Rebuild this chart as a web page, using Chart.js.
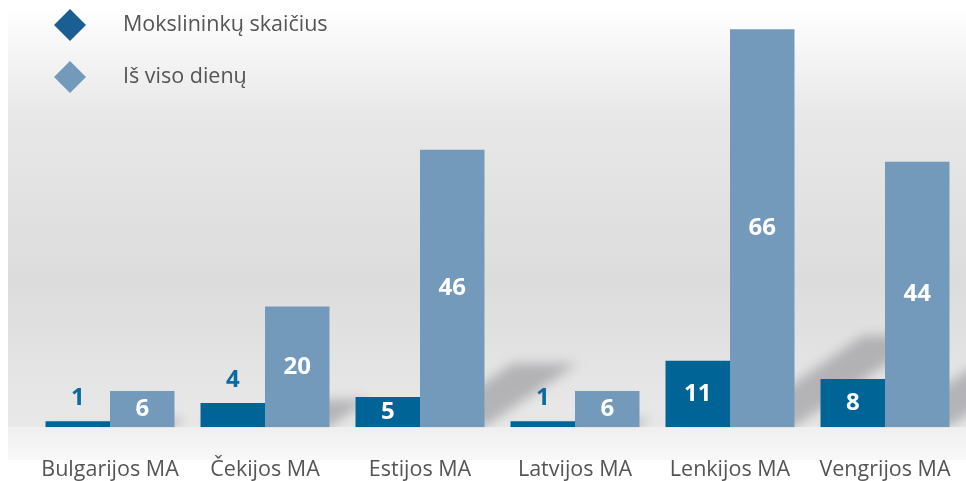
<!DOCTYPE html>
<html lang="lt">
<head>
<meta charset="UTF-8">
<title>Mokslininkų skaičius</title>
<script src="https://cdn.jsdelivr.net/npm/chart.js@4.4.0/dist/chart.umd.min.js"></script>
<style>
  html, body { margin: 0; padding: 0; background: #fff; }
  #wrap { width: 966px; height: 481px; position: relative; }
</style>
</head>
<body>
<div id="wrap"><canvas id="myChart" width="966" height="481"></canvas></div>
<script>
// duomenys
var categories = ['Bulgarijos MA', 'Čekijos MA', 'Estijos MA', 'Latvijos MA', 'Lenkijos MA', 'Vengrijos MA'];
var researchers = [1, 4, 5, 1, 11, 8];
var totalDays = [6, 20, 46, 6, 66, 44];
var seriesNames = ['Mokslininkų skaičius', 'Iš viso dienų'];

var darkBlue = '#006596';
var lightBlue = '#7399bb';
var legendColors = ['#1b5e94', '#7399bb'];

// fonas su gradientu
var backgroundPlugin = {
  id: 'bg',
  beforeDraw: function(chart) {
    var ctx = chart.ctx;
    var base = chart.scales.y.getPixelForValue(0);
    ctx.save();
    var g = ctx.createLinearGradient(0, 8, 0, base);
    g.addColorStop(0, '#ffffff');
    g.addColorStop(0.25, '#e7e8e7');
    g.addColorStop(0.65, '#dcdcdc');
    g.addColorStop(1, '#e9e9e9');
    ctx.fillStyle = g;
    ctx.fillRect(8, 8, chart.width - 8, base - 8);
    var g2 = ctx.createLinearGradient(0, base, 0, 460);
    g2.addColorStop(0, '#eeefee');
    g2.addColorStop(1, '#f8f8f8');
    ctx.fillStyle = g2;
    ctx.fillRect(8, base, chart.width - 8, 460 - base);
    ctx.restore();
  }
};

// stulpelių šešėliai
var shadowPlugin = {
  id: 'shadows',
  beforeDatasetsDraw: function(chart) {
    var ctx = chart.ctx;
    var base = chart.scales.y.getPixelForValue(0);
    ctx.save();
    ctx.beginPath();
    ctx.rect(8, 8, chart.width - 8, base - 8);
    ctx.clip();
    ctx.filter = 'blur(6px)';
    ctx.fillStyle = 'rgba(110,110,116,0.42)';
    chart.data.datasets.forEach(function(ds, di) {
      chart.getDatasetMeta(di).data.forEach(function(bar) {
        var h = base - bar.y;
        var rise = 0.23 * h;
        var sx = 1.45 * rise;
        var x0 = bar.x - bar.width / 2, x1 = bar.x + bar.width / 2;
        ctx.beginPath();
        ctx.moveTo(x0, base);
        ctx.lineTo(x1, base);
        ctx.lineTo(x1 + sx, base - rise);
        ctx.lineTo(x0 + sx, base - rise);
        ctx.closePath();
        ctx.fill();
      });
    });
    ctx.restore();
  }
};

// reikšmių etiketės
var valuesPlugin = {
  id: 'values',
  afterDatasetsDraw: function(chart) {
    var ctx = chart.ctx;
    var base = chart.scales.y.getPixelForValue(0);
    ctx.save();
    ctx.font = 'bold 24px "Open Sans", sans-serif';
    ctx.textAlign = 'center';
    ctx.textBaseline = 'middle';
    chart.data.datasets.forEach(function(ds, di) {
      chart.getDatasetMeta(di).data.forEach(function(bar, i) {
        var h = base - bar.y;
        var y;
        if (h < 30) {
          ctx.fillStyle = '#0a6aa1';
          y = bar.y - 23;
        } else {
          ctx.fillStyle = '#ffffff';
          y = bar.y + h / 2;
        }
        ctx.fillText(String(ds.data[i]), bar.x, y);
      });
    });
    ctx.restore();
  }
};

// legenda
var legendPlugin = {
  id: 'customLegend',
  afterDraw: function(chart) {
    var ctx = chart.ctx;
    ctx.save();
    ctx.font = '21.5px "Open Sans", sans-serif';
    ctx.textBaseline = 'middle';
    chart.data.datasets.forEach(function(ds, i) {
      var cy = 25 + i * 52;
      var cx = 70, r = 16;
      ctx.fillStyle = legendColors[i];
      ctx.beginPath();
      ctx.moveTo(cx, cy - r);
      ctx.lineTo(cx + r, cy);
      ctx.lineTo(cx, cy + r);
      ctx.lineTo(cx - r, cy);
      ctx.closePath();
      ctx.fill();
      ctx.fillStyle = '#555555';
      ctx.fillText(ds.label, 123, cy);
    });
    ctx.restore();
  }
};

var myChart = new Chart(document.getElementById('myChart'), {
  type: 'bar',
  data: {
    labels: categories,
    datasets: [
      { label: seriesNames[0], data: researchers, backgroundColor: darkBlue },
      { label: seriesNames[1], data: totalDays, backgroundColor: lightBlue }
    ]
  },
  options: {
    responsive: false,
    animation: false,
    devicePixelRatio: 1,
    layout: { padding: { top: 5, left: 32.5, right: 3.5, bottom: -32 } },
    datasets: { bar: { categoryPercentage: 0.832, barPercentage: 1 } },
    plugins: { legend: { display: false }, tooltip: { enabled: false } },
    scales: {
      x: {
        grid: { display: false, drawTicks: false },
        border: { display: false },
        afterFit: function(scale) {
          // etiketės telpa, papildomos vietos šonuose nereikia
          scale.paddingLeft = 0;
          scale.paddingRight = 0;
        },
        ticks: {
          color: '#555555',
          font: { family: '"Open Sans", sans-serif', size: 21.5 },
          padding: 30,
          maxRotation: 0,
          minRotation: 0,
          autoSkip: false
        }
      },
      y: { display: false, min: 0, max: 70 }
    }
  },
  plugins: [backgroundPlugin, shadowPlugin, valuesPlugin, legendPlugin]
});
</script>
</body>
</html>
